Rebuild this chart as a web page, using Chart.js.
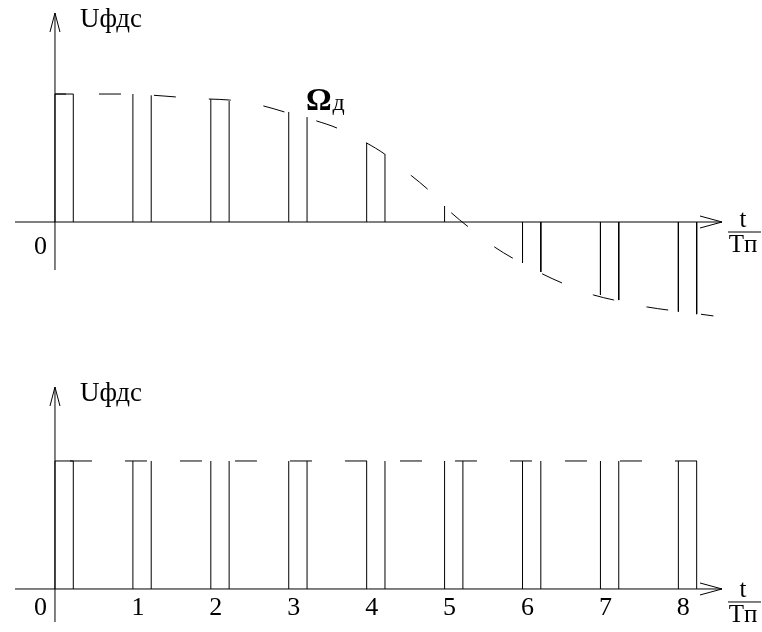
<!DOCTYPE html>
<html>
<head>
<meta charset="utf-8">
<script src="https://cdn.jsdelivr.net/npm/chart.js@4.4.0/dist/chart.umd.min.js"></script>
<style>
  body { margin: 0; background: #fff; }
  #wrap { position: relative; width: 762px; height: 632px; overflow: hidden; }
  #wrap canvas { position: absolute; left: 0; }
  #top-chart { top: 0; }
  #bottom-chart { top: 330px; }
</style>
</head>
<body>
<div id="wrap">
  <canvas id="top-chart" width="762" height="330"></canvas>
  <canvas id="bottom-chart" width="762" height="302"></canvas>
</div>
<script>
// Pulse leading edges, in periods t/Tп
const pulseStarts = [0, 1, 2, 3, 4, 5, 6, 7, 8];
const pulseWidth = 0.235;

// Upper plot: signal level at the leading and trailing edge of each pulse
const topLeadValues = [1.0, 1.0, 0.96, 0.86, 0.62, 0.125, -0.32, -0.57, -0.70];
const topTrailValues = [1.0, 0.99, 0.945, 0.82, 0.53, 0, -0.39, -0.61, -0.72];

// Upper plot: dashed envelope Ωд
const envelopeT = [0, 0.56, 0.86, 1.27, 1.55, 1.97, 2.24, 2.68, 2.95, 3.36, 3.62, 4.0, 4.23,
    4.58, 4.78, 5.09, 5.29, 5.64, 5.87, 6.23, 6.51, 6.91, 7.17, 7.6, 7.87, 8.27, 8.45];
const envelopeValues = [1.0, 1.0, 1.0, 0.99, 0.977, 0.961, 0.953, 0.906, 0.859, 0.789, 0.734, 0.617, 0.531,
    0.359, 0.258, 0.07, -0.031, -0.195, -0.281, -0.398, -0.477, -0.57, -0.609, -0.664, -0.688, -0.719, -0.734];

// Lower plot: constant pulse level and its dashed top line
const bottomLeadValues = [1, 1, 1, 1, 1, 1, 1, 1, 1];
const bottomTrailValues = [1, 1, 1, 1, 1, 1, 1, 1, 1];
const levelT = [0, 8.45];
const levelValues = [1, 1];

// Axis labels
const bottomTickLabels = ['0', '1', '2', '3', '4', '5', '6', '7', '8'];
const topTickLabels = ['0'];
const yAxisTitle = 'Uфдс';

const serif = '"Liberation Serif", "Times New Roman", serif';

// Vertical edges of every pulse, split by null gaps
function edgePoints(leads, trails) {
    const pts = [];
    pulseStarts.forEach((t, i) => {
        const t2 = t + pulseWidth;
        pts.push({ x: t, y: 0 }, { x: t, y: leads[i] }, { x: t, y: null });
        pts.push({ x: t2, y: 0 }, { x: t2, y: trails[i] }, { x: t2, y: null });
    });
    return pts;
}

function curvePoints(ts, values) {
    return ts.map((t, i) => ({ x: t, y: values[i] }));
}

// Axes with open arrow heads plus all text
const axesPlugin = {
    id: 'arrowAxes',
    afterDraw(chart, args, opts) {
        const ctx = chart.ctx;
        const area = chart.chartArea;
        const xs = chart.scales.x;
        const ys = chart.scales.y;
        const x0 = xs.getPixelForValue(0);
        const y0 = ys.getPixelForValue(0);

        ctx.save();
        ctx.strokeStyle = '#000';
        ctx.lineWidth = 1;
        ctx.beginPath();
        // horizontal axis
        ctx.moveTo(area.left, y0);
        ctx.lineTo(area.right, y0);
        ctx.moveTo(area.right - 22, y0 - 6);
        ctx.lineTo(area.right, y0);
        ctx.lineTo(area.right - 22, y0 + 6);
        // vertical axis
        ctx.moveTo(x0, area.bottom);
        ctx.lineTo(x0, area.top);
        ctx.moveTo(x0 - 5, area.top + 19);
        ctx.lineTo(x0, area.top);
        ctx.lineTo(x0 + 5, area.top + 19);
        ctx.stroke();

        ctx.fillStyle = '#000';
        ctx.textBaseline = 'alphabetic';

        // axis title
        ctx.textAlign = 'left';
        ctx.font = '27px ' + serif;
        ctx.fillText(yAxisTitle, x0 + 25, area.top + 14);

        // tick labels
        ctx.font = '26px ' + serif;
        opts.ticks.forEach((label, i) => {
            if (i === 0) {
                ctx.textAlign = 'right';
                ctx.fillText(label, x0 - 8, y0 + opts.zeroDrop);
            } else {
                ctx.textAlign = 'center';
                ctx.fillText(label, xs.getPixelForValue(i) + 5, y0 + 26);
            }
        });

        // t / Tп fraction at the arrow tip
        const fx = area.right + 21;
        const fy = y0 + opts.fracShift;
        ctx.textAlign = 'center';
        ctx.font = '25px ' + serif;
        ctx.fillText('t', fx, fy + 5);
        ctx.fillText('Tп', fx, fy + 30);
        ctx.beginPath();
        ctx.moveTo(fx - 15, fy + 10);
        ctx.lineTo(fx + 18, fy + 10);
        ctx.stroke();

        // envelope name
        if (opts.omega) {
            const ox = xs.getPixelForValue(opts.omega.x);
            const oy = ys.getPixelForValue(opts.omega.y);
            ctx.textAlign = 'left';
            ctx.font = 'bold 32px ' + serif;
            ctx.fillText('Ω', ox, oy);
            const w = ctx.measureText('Ω').width;
            ctx.font = '24px ' + serif;
            ctx.fillText('д', ox + w + 1, oy);
        }
        ctx.restore();
    }
};

function makeChart(canvasId, leads, trails, lineT, lineValues, dashOffset, yRange, padding, axisOpts) {
    const lineStyle = { borderColor: '#000', borderWidth: 1, pointRadius: 0, fill: false, clip: false };
    new Chart(document.getElementById(canvasId), {
        type: 'line',
        data: {
            datasets: [
                Object.assign({ label: 'edges', data: edgePoints(leads, trails), spanGaps: false, tension: 0 }, lineStyle),
                Object.assign({
                    label: 'first top',
                    data: [{ x: pulseStarts[0], y: leads[0] }, { x: pulseStarts[0] + pulseWidth, y: trails[0] }],
                    tension: 0
                }, lineStyle),
                Object.assign({
                    label: 'envelope',
                    data: curvePoints(lineT, lineValues),
                    borderDash: [22, 33],
                    borderDashOffset: dashOffset,
                    cubicInterpolationMode: 'monotone'
                }, lineStyle)
            ]
        },
        options: {
            responsive: false,
            animation: false,
            events: [],
            layout: { padding: padding },
            plugins: { legend: { display: false }, tooltip: { enabled: false }, arrowAxes: axisOpts },
            scales: {
                x: { type: 'linear', display: false, min: -0.513, max: 8.56 },
                y: { type: 'linear', display: false, min: yRange[0], max: yRange[1] }
            }
        },
        plugins: [axesPlugin]
    });
}

makeChart('top-chart', topLeadValues, topTrailValues, envelopeT, envelopeValues, 11,
    [-0.375, 1.633], { left: 15, right: 40, top: 13, bottom: 60 },
    { ticks: topTickLabels, zeroDrop: 32, fracShift: 0, omega: { x: 3.22, y: 0.875 } });

makeChart('bottom-chart', bottomLeadValues, bottomTrailValues, levelT, levelValues, 40,
    [-0.258, 1.578], { left: 15, right: 40, top: 57, bottom: 10 },
    { ticks: bottomTickLabels, zeroDrop: 26, fracShift: 3, omega: null });
</script>
</body>
</html>
